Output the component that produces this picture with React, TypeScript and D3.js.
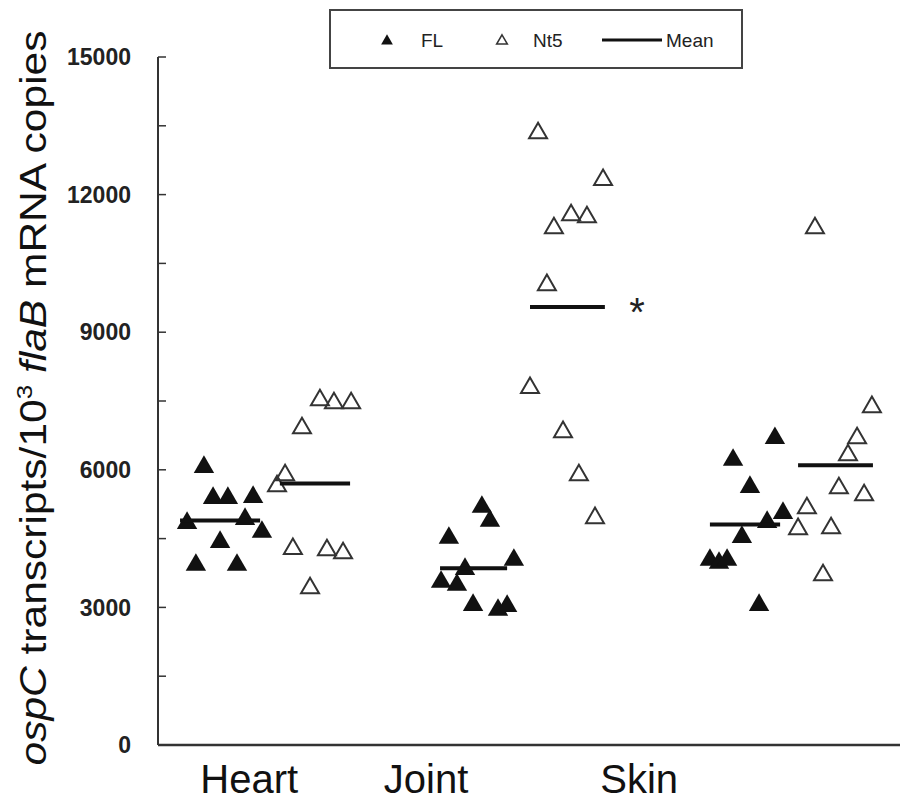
import React, { useEffect, useRef } from "react";
import * as d3 from "d3";

// groups and where their names sit under the axis (in x units)
const categories = ["Heart", "Joint", "Skin"];
const categoryLabelX = [0.42, 1.1, 1.92];
const yTicks = [0, 3000, 6000, 9000, 12000, 15000];

// FL (filled) values and their jitter positions
const heartFL = [6060, 5385, 5385, 5405, 4925, 4840, 4645, 4425, 3925, 3925];
const heartFLx = [0.246, 0.281, 0.338, 0.435, 0.404, 0.181, 0.469, 0.308, 0.215, 0.373];
const jointFL = [5190, 4885, 4515, 4035, 3835, 3555, 3490, 3050, 2945, 3030];
const jointFLx = [1.315, 1.346, 1.188, 1.438, 1.25, 1.158, 1.219, 1.281, 1.377, 1.412];
const skinFL = [6690, 6215, 5625, 5055, 4860, 4535, 4035, 3970, 4035, 3050];
const skinFLx = [2.442, 2.281, 2.346, 2.473, 2.412, 2.315, 2.192, 2.227, 2.258, 2.381];

// Nt5 (open) values and their jitter positions
const heartNt5 = [7520, 7455, 7455, 6910, 5885, 5645, 4275, 4250, 4185, 3420];
const heartNt5x = [0.692, 0.746, 0.812, 0.623, 0.558, 0.527, 0.588, 0.719, 0.781, 0.654];
const jointNt5 = [13340, 12320, 11555, 11510, 11270, 10030, 7785, 6825, 5885, 4950];
const jointNt5x = [1.531, 1.781, 1.658, 1.719, 1.592, 1.565, 1.5, 1.627, 1.688, 1.75];
const skinNt5 = [11270, 7370, 6690, 6320, 5600, 5450, 5165, 4710, 4730, 3705];
const skinNt5x = [2.596, 2.815, 2.758, 2.723, 2.688, 2.785, 2.565, 2.531, 2.658, 2.627];

// extent of each mean bar (x units)
const flMeanSpan = [[0.154, 0.462], [1.154, 1.412], [2.192, 2.462]];
const nt5MeanSpan = [[0.538, 0.808], [1.5, 1.788], [2.531, 2.819]];

const flGroups = [[heartFL, heartFLx], [jointFL, jointFLx], [skinFL, skinFLx]];
const nt5Groups = [[heartNt5, heartNt5x], [jointNt5, jointNt5x], [skinNt5, skinNt5x]];

const App = () => {
  const ref = useRef<SVGSVGElement>(null);

  useEffect(() => {
    const svg = d3.select(ref.current);
    svg.selectAll("*").remove();

    const width = 900, height = 802;
    svg.attr("width", width).attr("height", height);

    const x = d3.scaleLinear().domain([0, 3]).range([140, 920]);
    const y = d3.scaleLinear().domain([0, 15000]).range([745, 57]);
    const x0 = 158;
    const font = "Arial, 'Liberation Sans', sans-serif";

    // Y axis with inward ticks
    const yAxis = svg.append("g").attr("transform", `translate(${x0},0)`);
    yAxis.append("line")
      .attr("x1", 0).attr("x2", 0)
      .attr("y1", y(15000)).attr("y2", y(0))
      .attr("stroke", "#333").attr("stroke-width", 2);
    yAxis.selectAll("line.tick")
      .data(d3.range(0, 15001, 1500))
      .enter().append("line")
      .attr("class", "tick")
      .attr("x1", 0).attr("x2", 8)
      .attr("y1", d => y(d)).attr("y2", d => y(d))
      .attr("stroke", "#333").attr("stroke-width", 1.5);

    svg.append("g").selectAll("text")
      .data(yTicks)
      .enter().append("text")
      .attr("x", 131)
      .attr("y", d => y(d))
      .attr("dy", "0.36em")
      .attr("text-anchor", "end")
      .attr("font-family", font)
      .attr("font-weight", "bold")
      .attr("font-size", 23)
      .attr("fill", "#222")
      .text(d => d);

    // X axis
    svg.append("line")
      .attr("x1", x0).attr("x2", width)
      .attr("y1", y(0)).attr("y2", y(0))
      .attr("stroke", "#333").attr("stroke-width", 2.5);

    svg.append("g").selectAll("text")
      .data(categories)
      .enter().append("text")
      .attr("x", (d, i) => x(categoryLabelX[i]))
      .attr("y", 793)
      .attr("text-anchor", "middle")
      .attr("font-family", font)
      .attr("font-size", 40)
      .attr("fill", "#111")
      .text(d => d);

    // Y label
    const yl = svg.append("text")
      .attr("transform", "translate(46,398) rotate(-90)")
      .attr("text-anchor", "middle")
      .attr("font-family", font)
      .attr("font-size", 36)
      .attr("fill", "#111")
      .attr("textLength", 735)
      .attr("lengthAdjust", "spacingAndGlyphs");
    yl.append("tspan").attr("font-style", "italic").text("ospC");
    yl.append("tspan").text(" transcripts/10");
    yl.append("tspan").attr("font-size", 22).attr("dy", -14).text("3");
    yl.append("tspan").attr("dy", 14).text(" ");
    yl.append("tspan").attr("font-style", "italic").text("flaB");
    yl.append("tspan").text(" mRNA copies");

    const filled = d3.symbol(d3.symbolTriangle, 180);
    const open = d3.symbol(d3.symbolTriangle, 140);

    // FL points
    flGroups.forEach(([vals, xs]) => {
      svg.append("g").selectAll("path")
        .data(vals)
        .enter().append("path")
        .attr("d", filled)
        .attr("transform", (d, i) => `translate(${x(xs[i])},${y(d)})`)
        .attr("fill", "#111");
    });

    // Nt5 points
    nt5Groups.forEach(([vals, xs]) => {
      svg.append("g").selectAll("path")
        .data(vals)
        .enter().append("path")
        .attr("d", open)
        .attr("transform", (d, i) => `translate(${x(xs[i])},${y(d)})`)
        .attr("fill", "none")
        .attr("stroke", "#333")
        .attr("stroke-width", 2);
    });

    // Means
    const drawMean = (vals, span) => {
      const m = d3.mean(vals);
      svg.append("line")
        .attr("x1", x(span[0])).attr("x2", x(span[1]))
        .attr("y1", y(m)).attr("y2", y(m))
        .attr("stroke", "#111").attr("stroke-width", 4);
    };
    flGroups.forEach(([vals], i) => drawMean(vals, flMeanSpan[i]));
    nt5Groups.forEach(([vals], i) => drawMean(vals, nt5MeanSpan[i]));

    // significance mark next to Joint Nt5 mean
    svg.append("text")
      .attr("x", x(1.912))
      .attr("y", y(d3.mean(jointNt5)))
      .attr("dy", 19)
      .attr("text-anchor", "middle")
      .attr("font-family", font)
      .attr("font-size", 40)
      .attr("fill", "#222")
      .text("*");

    // Legend
    const lg = svg.append("g");
    lg.append("rect")
      .attr("x", 330).attr("y", 10)
      .attr("width", 412).attr("height", 58)
      .attr("fill", "white")
      .attr("stroke", "#444").attr("stroke-width", 2);
    lg.append("path")
      .attr("d", d3.symbol(d3.symbolTriangle, 60))
      .attr("transform", "translate(387,41)")
      .attr("fill", "#111");
    lg.append("text").attr("x", 421).attr("y", 47)
      .attr("font-family", font).attr("font-size", 19).attr("fill", "#222").text("FL");
    lg.append("path")
      .attr("d", d3.symbol(d3.symbolTriangle, 50))
      .attr("transform", "translate(502,41)")
      .attr("fill", "none").attr("stroke", "#333").attr("stroke-width", 1.5);
    lg.append("text").attr("x", 533).attr("y", 47)
      .attr("font-family", font).attr("font-size", 19).attr("fill", "#222").text("Nt5");
    lg.append("line")
      .attr("x1", 602).attr("x2", 662).attr("y1", 40).attr("y2", 40)
      .attr("stroke", "#111").attr("stroke-width", 3);
    lg.append("text").attr("x", 666).attr("y", 47)
      .attr("font-family", font).attr("font-size", 19).attr("fill", "#222").text("Mean");
  }, []);

  return <svg ref={ref} style={{ position: "absolute", left: 0, top: 0 }}></svg>;
};

export default App;
